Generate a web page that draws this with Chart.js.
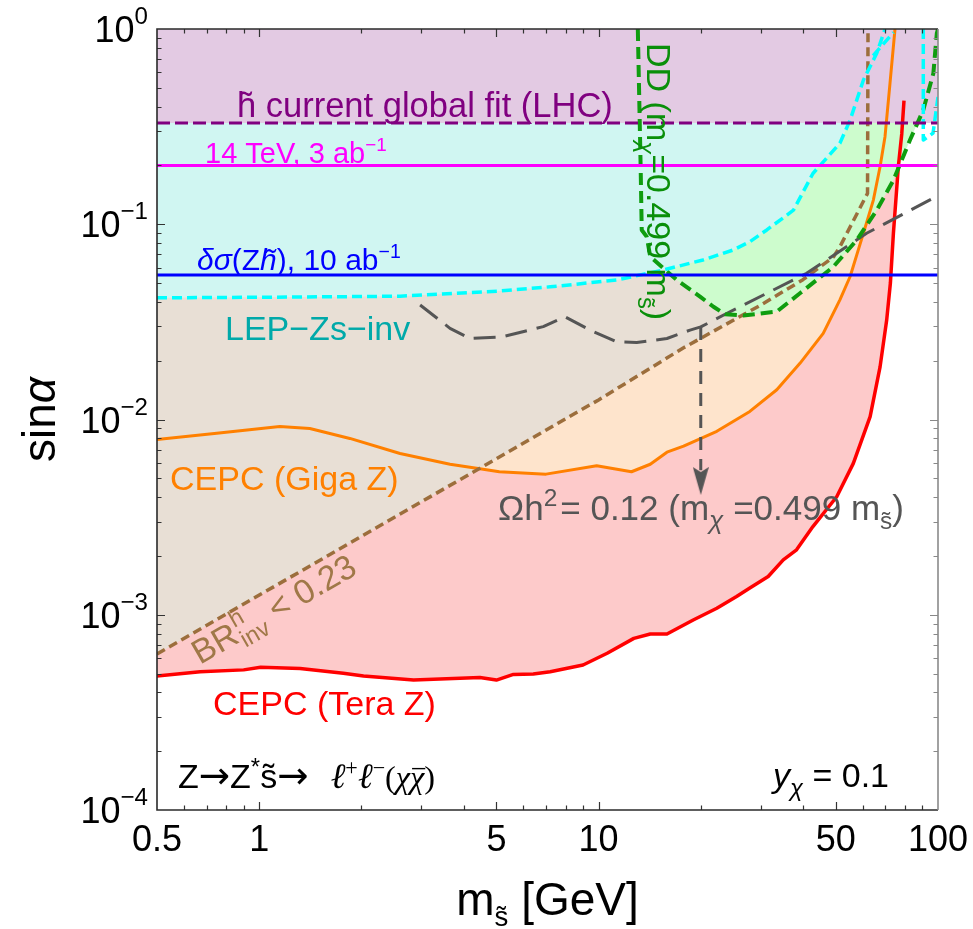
<!DOCTYPE html>
<html>
<head>
<meta charset="utf-8">
<script src="https://cdn.jsdelivr.net/npm/chart.js@4.4.1/dist/chart.umd.min.js"></script>
<style>html,body{margin:0;padding:0;background:#fff}canvas{display:block}</style>
</head>
<body>
<canvas id="c" width="973" height="929"></canvas>
<script>
// Scalar mass m_s (GeV) on x, mixing sin(alpha) on y, both logarithmic.

// Horizontal bounds
const lhcGlobalFit = 0.33;   // current global fit (LHC)
const hl14TeV = 0.2;         // 14 TeV, 3 ab^-1
const zhPrecision = 0.055;   // delta sigma(Zh), 10 ab^-1

// LEP Z s -> invisible
const lepMass = [0.5, 1.32, 2.6, 5.1, 7.2, 11.3, 15.5, 20.3, 24.9, 27.9, 31.3, 37.5, 42.8, 51.4, 55.1, 60.3, 66.0, 69.8];
const lepSin  = [0.042, 0.0424, 0.0428, 0.0455, 0.0478, 0.0518, 0.0583, 0.0656, 0.0738, 0.0814, 0.0935, 0.118, 0.182, 0.26, 0.342, 0.548, 0.751, 1.0];
const lepBranchMass = [64.4, 73.9];
const lepBranchSin  = [0.73, 0.96];
const lepHighMass = [90.5, 90.5, 96.7, 100];
const lepHighSin  = [1.0, 0.27, 0.293, 0.449];

// Direct detection, m_chi = 0.499 m_s
const ddMass = [13.05, 13.3, 13.4, 13.86, 14.2, 15.5, 17.0, 19.9, 21.8, 23.6, 26.7, 33.5, 39.2, 49.2, 57.6, 66.0, 73.9, 82.7, 90.5, 96.9, 99.2, 100];
const ddSin  = [1.0, 0.2, 0.0935, 0.0864, 0.0682, 0.0597, 0.0518, 0.0426, 0.0378, 0.0346, 0.0341, 0.0357, 0.0443, 0.0606, 0.083, 0.118, 0.168, 0.27, 0.385, 0.593, 0.95, 1.0];

// Relic density Omega h^2 = 0.12
const relicMass = [2.98, 3.65, 4.18, 5.2, 6.87, 7.96, 9.44, 11.3, 12.95, 15.9, 18.6, 20.0, 23.9, 41.0, 61.6, 100];
const relicSin  = [0.0386, 0.0293, 0.026, 0.0265, 0.0299, 0.0336, 0.0287, 0.025, 0.0248, 0.026, 0.0287, 0.0298, 0.035, 0.0561, 0.0899, 0.14];
const relicArrowMass = 20;
const relicArrowSin  = [0.0298, 0.0055];
const relicArrowHead = 0.00484;

// Higgs invisible branching ratio BR < 0.23
const brMass = [0.5, 5, 10, 17.8, 30, 40, 49.2, 51.4, 62.0, 62.2];
const brSin  = [0.00063, 0.0063, 0.0126, 0.0233, 0.0385, 0.052, 0.068, 0.0767, 0.144, 1.0];

// CEPC Giga Z
const gigaMass = [0.5, 0.75, 1.15, 1.41, 1.85, 2.6, 3.65, 4.47, 5.1, 7.0, 9.87, 12.5, 14.2, 15.9, 17.8, 22.3, 27.9, 33.5, 39.2, 45.9, 51.4, 55.1, 60.3, 64.5, 67.5, 69.8, 72.2, 74.7];
const gigaSin  = [0.0079, 0.0085, 0.0092, 0.009, 0.008, 0.0067, 0.0059, 0.0056, 0.0054, 0.00525, 0.0058, 0.0054, 0.0059, 0.0068, 0.0073, 0.0087, 0.011, 0.0142, 0.0194, 0.0276, 0.041, 0.054, 0.09, 0.133, 0.197, 0.281, 0.527, 1.0];

// CEPC Tera Z
const teraMass = [0.5, 0.67, 0.9, 1.01, 1.32, 1.77, 2.03, 2.85, 4.47, 5.0, 5.61, 6.42, 7.2, 9.0, 10.6, 12.7, 14.2, 15.9, 19.0, 22.3, 25.5, 27.9, 31.6, 35.0, 38.3, 42.8, 50.3, 56.3, 63.1, 67.5, 70.6, 72.4, 73.9, 76.4, 78.2, 79.4];
const teraSin  = [0.000486, 0.000511, 0.000522, 0.000538, 0.000531, 0.000501, 0.000486, 0.000463, 0.000477, 0.000463, 0.000495, 0.000497, 0.000511, 0.000553, 0.000635, 0.000757, 0.000797, 0.000797, 0.00094, 0.00108, 0.00124, 0.00137, 0.00157, 0.00191, 0.00215, 0.00283, 0.00402, 0.00596, 0.01034, 0.0186, 0.0323, 0.05, 0.09, 0.197, 0.29, 0.43];

// Axis ticks
const massTickLabels = [0.5, 1, 5, 10, 50, 100];
const massMinorTicks = [0.6, 0.7, 0.8, 0.9, 2, 3, 4, 6, 7, 8, 9, 20, 30, 40, 60, 70, 80, 90];
const sinDecades = [-4, -3, -2, -1, 0];

const SANS = '"Liberation Sans", Arial, Helvetica, sans-serif';
const SERIF = '"Liberation Serif", "DejaVu Serif", serif';
const ARROW = '"DejaVu Sans", sans-serif';

const pts = (xs, ys) => xs.map((x, i) => ({ x, y: ys[i] }));
const flat = (v) => [{ x: 0.5, y: v }, { x: 100, y: v }];

function curve(data, color, width, dash, fillColor) {
  return {
    data, borderColor: color, borderWidth: width, borderDash: dash || [],
    fill: fillColor ? 'end' : false, backgroundColor: fillColor || 'transparent',
    pointRadius: 0, tension: 0, borderCapStyle: 'butt', borderJoinStyle: 'round'
  };
}

// narrow arrow head used as point style
const head = document.createElement('canvas');
head.width = 16; head.height = 28;
{
  const h = head.getContext('2d');
  h.fillStyle = '#555555';
  h.beginPath(); h.moveTo(0, 0); h.lineTo(8, 5); h.lineTo(16, 0); h.lineTo(8, 28); h.closePath(); h.fill();
}

// ---- rich text helpers ----
function fontOf(s, o) {
  const size = (s.k || 1) * o.size;
  return (s.it ? 'italic ' : '') + size + 'px ' + (s.ff || o.ff || SANS);
}
function richWidth(ctx, segs, o) {
  let w = 0;
  for (const s of segs) {
    ctx.font = fontOf(s, o);
    const m = ctx.measureText(s.t).width;
    if (s.stack) continue;
    w += m + (s.dx || 0);
  }
  return w;
}
function drawRich(ctx, x, y, segs, o) {
  ctx.save();
  ctx.translate(x, y);
  if (o.rot) ctx.rotate(o.rot);
  ctx.textBaseline = 'alphabetic';
  ctx.textAlign = 'left';
  let cx = 0;
  if (o.align) {
    const w = richWidth(ctx, segs, o);
    cx = o.align === 'right' ? -w : -w / 2;
  }
  for (const s of segs) {
    ctx.font = fontOf(s, o);
    ctx.fillStyle = s.c || o.c;
    const px = cx + (s.dx || 0);
    ctx.fillText(s.t, px, s.dy || 0);
    const w = ctx.measureText(s.t).width;
    if (s.over) {
      const size = (s.k || 1) * o.size;
      ctx.strokeStyle = s.c || o.c; ctx.lineWidth = 1.4;
      ctx.beginPath();
      ctx.moveTo(px + 2, (s.dy || 0) - size * 0.6);
      ctx.lineTo(px + w + 1, (s.dy || 0) - size * 0.6);
      ctx.stroke();
    }
    if (!s.stack) cx = px + w;
  }
  ctx.restore();
}

const decor = {
  id: 'decor',
  afterDraw(chart) {
    const ctx = chart.ctx, a = chart.chartArea, xs = chart.scales.x, ys = chart.scales.y;
    ctx.save();
    // ticks
    const tick = (color, fn) => { ctx.strokeStyle = color; ctx.lineWidth = 1.2; ctx.beginPath(); fn(); ctx.stroke(); };
    const xTicks = massTickLabels.slice(1, -1).map(v => [v, 8]).concat(massMinorTicks.map(v => [v, 4.5]));
    const yTicks = [];
    for (const d of sinDecades) {
      if (d > -4 && d < 0) yTicks.push([Math.pow(10, d), 8]);
      if (d < 0) for (let k = 2; k <= 9; k++) yTicks.push([k * Math.pow(10, d), 4.5]);
    }
    tick('#333', () => {
      for (const [v, len] of xTicks) {
        const p = Math.round(xs.getPixelForValue(v)) + 0.5;
        ctx.moveTo(p, a.bottom); ctx.lineTo(p, a.bottom - len);
        ctx.moveTo(p, a.top); ctx.lineTo(p, a.top + len);
      }
      for (const [v, len] of yTicks) {
        const p = Math.round(ys.getPixelForValue(v)) + 0.5;
        ctx.moveTo(a.left, p); ctx.lineTo(a.left + len, p);
      }
    });
    tick('#888', () => {
      for (const [v, len] of yTicks) {
        const p = Math.round(ys.getPixelForValue(v)) + 0.5;
        ctx.moveTo(a.right, p); ctx.lineTo(a.right - len, p);
      }
    });
    // frame
    ctx.lineWidth = 1.6;
    ctx.strokeStyle = '#2a2a2a';
    ctx.beginPath();
    ctx.moveTo(a.right, a.top); ctx.lineTo(a.left, a.top); ctx.lineTo(a.left, a.bottom); ctx.lineTo(a.right, a.bottom);
    ctx.stroke();
    ctx.strokeStyle = '#8a8a8a';
    ctx.beginPath(); ctx.moveTo(a.right, a.top); ctx.lineTo(a.right, a.bottom); ctx.stroke();

    // tick labels
    ctx.fillStyle = '#000';
    ctx.font = '36px ' + SANS; ctx.textAlign = 'center'; ctx.textBaseline = 'alphabetic';
    for (const v of massTickLabels) ctx.fillText(String(v), xs.getPixelForValue(v), 851);
    for (const d of sinDecades) {
      const p = ys.getPixelForValue(Math.pow(10, d));
      drawRich(ctx, a.left - 9, p + 13, [
        { t: '10' },
        { t: d === 0 ? '0' : '\u2212' + (-d), k: 0.67, dy: -18 }
      ], { size: 36, c: '#000', align: 'right' });
    }
    // axis titles
    drawRich(ctx, (a.left + a.right) / 2, 915, [
      { t: 'm' }, { t: 's\u0303', k: 0.6, dy: 11 }, { t: ' [GeV]' }
    ], { size: 46, c: '#000', align: 'center' });
    drawRich(ctx, 55, (a.top + a.bottom) / 2, [
      { t: 'sin' }, { t: '\u03b1', it: true }
    ], { size: 46, c: '#000', align: 'center', rot: -Math.PI / 2 });

    // curve labels
    drawRich(ctx, 237, 117, [{ t: 'h\u0303 current global fit (LHC)' }], { size: 34.5, c: '#800080' });
    drawRich(ctx, 205, 163, [{ t: '14 TeV, 3 ab' }, { t: '\u22121', k: 0.65, dy: -12 }], { size: 29, c: '#ff00ff' });
    drawRich(ctx, 197, 270, [
      { t: '\u03b4\u03c3', it: true }, { t: '(Z' }, { t: 'h\u0303', it: true }, { t: '), 10 ab' },
      { t: '\u22121', k: 0.65, dy: -12 }
    ], { size: 30, c: '#0000ff' });
    drawRich(ctx, 225, 340, [{ t: 'LEP\u2212Zs\u2212inv' }], { size: 34, c: '#00a9a9' });
    drawRich(ctx, 170, 490, [{ t: 'CEPC (Giga Z)' }], { size: 34, c: '#ff8000' });
    drawRich(ctx, 498, 520, [
      { t: '\u03a9h' }, { t: '2', k: 0.7, dy: -14 }, { t: '= 0.12 (m', dx: 3 },
      { t: '\u03c7', k: 0.75, dy: 9, it: true }, { t: ' =0.499 m' }, { t: 's\u0303', k: 0.7, dy: 9 }, { t: ')' }
    ], { size: 35, c: '#555555' });
    drawRich(ctx, 213, 715, [{ t: 'CEPC (Tera Z)' }], { size: 34, c: '#ff0000' });
    drawRich(ctx, 200, 665, [
      { t: 'BR' }, { t: 'h', k: 0.7, dy: -15, stack: true, dx: 1 }, { t: 'inv', k: 0.7, dy: 8, dx: 1 },
      { t: ' < 0.23' }
    ], { size: 34, c: '#a07848', rot: -Math.PI / 6 });
    drawRich(ctx, 178, 788, [
      { t: 'Z' }, { t: '\u2192', ff: ARROW, k: 1.1 }, { t: 'Z' }, { t: '*', k: 0.7, dy: -13 }, { t: 's\u0303' },
      { t: '\u2192', ff: ARROW, k: 1.1 },
      { t: '\u2113', ff: SERIF, it: true, k: 1.05, dx: 22 }, { t: '+', ff: SERIF, k: 0.65, dy: -13 },
      { t: '\u2113', ff: SERIF, it: true, k: 1.05 }, { t: '\u2212', ff: SERIF, k: 0.65, dy: -13 },
      { t: '(', ff: SERIF, k: 0.95 }, { t: '\u03c7', ff: SERIF, it: true, k: 0.95 },
      { t: '\u03c7', ff: SERIF, it: true, k: 0.95, over: true }, { t: ')', ff: SERIF, k: 0.95 }
    ], { size: 34, c: '#000' });
    drawRich(ctx, 773, 787, [
      { t: 'y', it: true }, { t: '\u03c7', it: true, k: 0.7, dy: 9 }, { t: ' = 0.1' }
    ], { size: 34, c: '#000' });
    drawRich(ctx, 647, 43, [
      { t: 'DD (m' }, { t: '\u03c7', it: true, k: 0.7, dy: 9 }, { t: '=0.499 m' },
      { t: 's\u0303', k: 0.7, dy: 9 }, { t: ')' }
    ], { size: 34, c: '#0a8f0a', rot: Math.PI / 2 });
    ctx.restore();
  }
};

new Chart(document.getElementById('c'), {
  type: 'line',
  data: {
    datasets: [
      curve(flat(lhcGlobalFit), '#800080', 3, [13, 5], '#e3cae3'),
      curve(flat(hl14TeV), '#ff00ff', 3),
      curve(flat(zhPrecision), '#0000ff', 3),
      curve(pts(lepMass, lepSin), '#00ffff', 3.5, [10, 5], '#d0f6f2'),
      curve(pts(lepBranchMass, lepBranchSin), '#00ffff', 3.5, [10, 5]),
      curve(pts(lepHighMass, lepHighSin), '#00ffff', 3.5, [10, 5]),
      curve(pts(ddMass, ddSin), '#0f9d0f', 4, [12, 6], '#cdfccd'),
      curve(pts(relicMass, relicSin), '#555555', 3, [22, 10]),
      curve([{ x: relicArrowMass, y: relicArrowSin[0] }, { x: relicArrowMass, y: relicArrowSin[1] }], '#555555', 3, [13, 9]),
      {
        data: [{ x: relicArrowMass, y: relicArrowHead }], showLine: false,
        pointStyle: head, pointRadius: 10, borderWidth: 0, backgroundColor: '#555555', borderColor: '#555555'
      },
      curve(pts(brMass, brSin), '#9c6e3c', 3.5, [9, 5], '#e8dfd5'),
      curve(pts(gigaMass, gigaSin), '#ff8000', 3, null, '#fee4cc'),
      curve(pts(teraMass, teraSin), '#ff0000', 3.5, null, '#fdcaca')
    ]
  },
  options: {
    responsive: false,
    animation: false,
    devicePixelRatio: 1,
    layout: { padding: { left: 157, top: 29, right: 35, bottom: 119 } },
    plugins: {
      legend: { display: false },
      tooltip: { enabled: false },
      filler: { drawTime: 'beforeDatasetsDraw' }
    },
    scales: {
      x: { type: 'logarithmic', min: 0.5, max: 100, display: false },
      y: { type: 'logarithmic', min: 1e-4, max: 1, display: false }
    }
  },
  plugins: [decor]
});
</script>
</body>
</html>
